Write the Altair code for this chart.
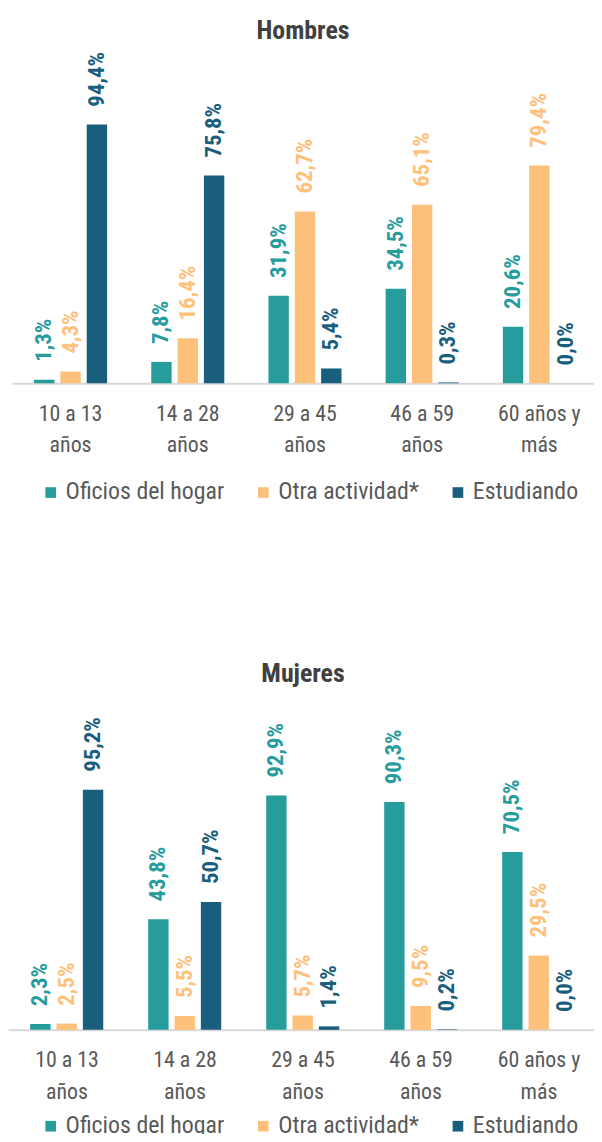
import altair as alt
import pandas as pd

categorias = ["10 a 13\naños", "14 a 28\naños", "29 a 45\naños", "46 a 59\naños", "60 años y\nmás"]
series = ["Oficios del hogar", "Otra actividad*", "Estudiando"]
colores = ["#269c9c", "#fec17c", "#1a5e7e"]

h_oficios = [1.3, 7.8, 31.9, 34.5, 20.6]
h_otra = [4.3, 16.4, 62.7, 65.1, 79.4]
h_estudiando = [94.4, 75.8, 5.4, 0.3, 0.0]

m_oficios = [2.3, 43.8, 92.9, 90.3, 70.5]
m_otra = [2.5, 5.5, 5.7, 9.5, 29.5]
m_estudiando = [95.2, 50.7, 1.4, 0.2, 0.0]

FONT = "Roboto Condensed, Liberation Sans Narrow, Roboto, sans-serif"


def make_df(vals):
    rows = []
    for s, arr in zip(series, vals):
        for c, v in zip(categorias, arr):
            rows.append({"cat": c, "serie": s, "valor": v,
                         "etiqueta": f"{v:.1f}".replace(".", ",") + "%"})
    return pd.DataFrame(rows)


def panel(df, titulo, alto, rango, title_offset, legend_x, legend_y):
    base = alt.Chart(df).encode(
        x=alt.X("cat:N", sort=categorias,
                scale=alt.Scale(range=rango, paddingInner=0.326, paddingOuter=0.163),
                axis=alt.Axis(title=None, labelAngle=0,
                              labelExpr="split(datum.label, '\\n')",
                              labelFontSize=22, labelFont=FONT, labelColor="#595959",
                              labelLineHeight=32, ticks=False, domainColor="#d9d9d9",
                              domainWidth=2, labelPadding=20)),
        xOffset=alt.XOffset("serie:N", sort=series,
                            scale=alt.Scale(domain=series, paddingInner=0.226, paddingOuter=0.113)),
        y=alt.Y("valor:Q", scale=alt.Scale(domain=[0, 100]), axis=None),
        color=alt.Color("serie:N", scale=alt.Scale(domain=series, range=colores),
                        legend=alt.Legend(title=None, orient="none", legendX=legend_x,
                                          legendY=legend_y, direction="horizontal",
                                          symbolType="square", symbolSize=115,
                                          symbolStrokeWidth=0, labelFontSize=24,
                                          labelFont=FONT, labelColor="#595959",
                                          columnPadding=27, labelOffset=3)),
    )
    bars = base.mark_bar()
    text = base.mark_text(angle=270, align="left", baseline="middle", dx=18,
                          fontSize=23, fontWeight="bold", font=FONT).encode(
        text="etiqueta:N")
    return alt.layer(bars, text).properties(
        width=594, height=alto,
        title=alt.TitleParams(titulo, fontSize=26, font=FONT, fontWeight="bold",
                              color="#404040", anchor="middle", offset=title_offset),
    )


top = panel(make_df([h_oficios, h_otra, h_estudiando]), "Hombres", 276, [4, 594], 8, 31, 374)
bottom = panel(make_df([m_oficios, m_otra, m_estudiando]), "Mujeres", 254, [0, 594], 30, 31, 339)

chart = alt.vconcat(top, bottom, spacing=158).resolve_scale(
    color="independent", x="independent", y="independent"
).resolve_legend(color="independent").properties(
    padding={"left": 0, "top": 6, "right": -4, "bottom": -8}
).configure_view(stroke=None)

chart.save("out.html", embed_options={"renderer": "svg", "actions": False})
